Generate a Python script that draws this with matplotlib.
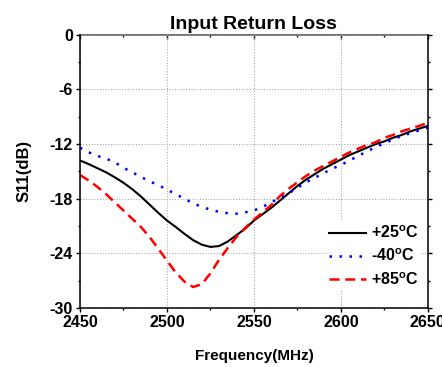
""" Input return loss (S11) versus frequency at three temperatures
"""

import matplotlib
matplotlib.use('Agg')
import matplotlib.pyplot as plt
from matplotlib.ticker import MultipleLocator

plt.rcParams['font.family'] = ['Liberation Sans', 'DejaVu Sans']
plt.rcParams['font.weight'] = 'bold'
plt.rcParams['axes.unicode_minus'] = False
plt.rcParams['mathtext.fontset'] = 'custom'
plt.rcParams['mathtext.rm'] = 'Liberation Sans:bold'
plt.rcParams['mathtext.bf'] = 'Liberation Sans:bold'

freq = [2450, 2455, 2460, 2465, 2470, 2475, 2480, 2485, 2490, 2495,
        2500, 2505, 2510, 2515, 2520, 2525, 2530, 2535, 2540, 2545,
        2550, 2555, 2560, 2565, 2570, 2575, 2580, 2585, 2590, 2595,
        2600, 2605, 2610, 2615, 2620, 2625, 2630, 2635, 2640, 2645, 2650]

s11_25 = [-13.8, -14.2, -14.65, -15.1, -15.65, -16.25, -16.95, -17.75, -18.65, -19.55,
          -20.4, -21.1, -21.85, -22.55, -23.05, -23.3, -23.2, -22.7, -22.0, -21.3,
          -20.4, -19.7, -19.0, -18.2, -17.4, -16.6, -15.9, -15.3, -14.7, -14.2,
          -13.7, -13.2, -12.8, -12.4, -12.0, -11.7, -11.3, -11.0, -10.6, -10.3, -10.0]

s11_m40 = [-12.4, -12.9, -13.3, -13.6, -14.0, -14.6, -15.1, -15.6, -16.1, -16.5,
           -17.0, -17.5, -18.0, -18.5, -18.9, -19.2, -19.45, -19.6, -19.65, -19.5,
           -19.3, -18.9, -18.4, -17.9, -17.4, -16.8, -16.2, -15.7, -15.2, -14.7,
           -14.3, -13.8, -13.3, -12.8, -12.35, -11.9, -11.5, -11.1, -10.8, -10.5, -10.2]

s11_85 = [-15.4, -16.0, -16.7, -17.5, -18.4, -19.3, -20.2, -21.1, -22.2, -23.5,
          -24.8, -26.1, -27.1, -27.7, -27.4, -26.2, -24.7, -23.4, -22.2, -21.2,
          -20.3, -19.5, -18.7, -17.7, -16.9, -16.2, -15.5, -14.9, -14.4, -13.9,
          -13.4, -12.9, -12.5, -12.1, -11.8, -11.3, -11.0, -10.6, -10.3, -10.0, -9.65]

labels = [r'+25$^{\rm o}$C', r'-40$^{\rm o}$C', r'+85$^{\rm o}$C']

fig = plt.figure(figsize=(4.42, 3.67), dpi=100)
ax = fig.add_axes([0.181, 0.161, 0.787, 0.744])

ax.plot(freq, s11_25, color='black', lw=1.5, label=labels[0])
ax.plot(freq, s11_m40, color='#0000ff', lw=1.8, linestyle=(0, (1, 3)),
        label=labels[1])
ax.plot(freq, s11_85, color='#ff0000', lw=1.8, linestyle=(0, (4, 2.3)),
        label=labels[2])

ax.set_xlim(2450, 2650)
ax.set_ylim(-30, 0)
ax.xaxis.set_major_locator(MultipleLocator(50))
ax.xaxis.set_minor_locator(MultipleLocator(25))
ax.yaxis.set_major_locator(MultipleLocator(6))
ax.yaxis.set_minor_locator(MultipleLocator(3))

ax.grid(True, which='major', color='#aaaaaa', linestyle=(0, (1, 1.5)), lw=0.8)
ax.tick_params(which='both', direction='out', right=True, width=1.0,
               labelsize=11.5, pad=2)
ax.tick_params(which='major', length=3)
ax.tick_params(which='minor', length=1.5)
for lab in ax.get_xticklabels() + ax.get_yticklabels():
    lab.set_fontweight('bold')

# top axis with inward ticks, no labels
top = ax.secondary_xaxis('top')
top.xaxis.set_major_locator(MultipleLocator(50))
top.xaxis.set_minor_locator(MultipleLocator(25))
top.tick_params(which='both', direction='in', labeltop=False, width=1.0)
top.tick_params(which='major', length=3)
top.tick_params(which='minor', length=1.5)
top.spines['top'].set_color('#555555')
top.spines['top'].set_linewidth(1.2)

for side in ['left', 'right', 'bottom']:
    ax.spines[side].set_linewidth(1.1)
ax.spines['top'].set_visible(False)

ax.set_xlabel('Frequency(MHz)', fontsize=11, fontweight='bold', labelpad=14)
ax.set_ylabel('S11(dB)', fontsize=12, fontweight='bold', labelpad=13)
ax.set_title('Input Return Loss', fontsize=14, fontweight='bold', pad=4)

leg = ax.legend(loc='lower right', bbox_to_anchor=(1.005, 0.033),
                frameon=True, fancybox=False, edgecolor='none',
                facecolor='white', framealpha=1, handlelength=2.3,
                handletextpad=0.3, labelspacing=0.42, borderpad=0.2,
                prop={'size': 11.5, 'weight': 'bold'})

fig.savefig('out.png', dpi=100)
